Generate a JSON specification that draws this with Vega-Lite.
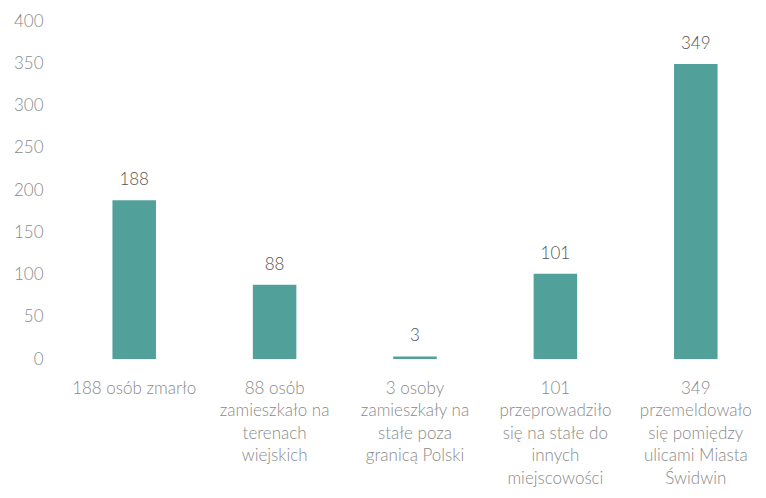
{
  "$schema": "https://vega.github.io/schema/vega-lite/v6.json",
  "autosize": {"type": "none"},
  "width": 702,
  "height": 338,
  "padding": {"left": 64, "top": 21, "right": 0, "bottom": 139},
  "background": "white",
  "config": {
    "view": {"stroke": null},
    "font": "Lato"
  },
  "data": {
    "values": [
      {"kategoria": "188 osób zmarło", "liczba": 188},
      {"kategoria": "88 osób\nzamieszkało na\nterenach\nwiejskich", "liczba": 88},
      {"kategoria": "3 osoby\nzamieszkały na\nstałe poza\ngranicą Polski", "liczba": 3},
      {"kategoria": "101\nprzeprowadziło\nsię na stałe do\ninnych\nmiejscowości", "liczba": 101},
      {"kategoria": "349\nprzemeldowało\nsię pomiędzy\nulicami Miasta\nŚwidwin", "liczba": 349}
    ]
  },
  "encoding": {
    "x": {
      "field": "kategoria",
      "type": "nominal",
      "sort": null,
      "scale": {"paddingInner": 0.69, "paddingOuter": 0.345},
      "axis": {
        "title": null,
        "labelAngle": 0,
        "domain": false,
        "ticks": false,
        "labelPadding": 21,
        "labelExpr": "split(datum.value, '\\n')",
        "labelLineHeight": 22.5,
        "labelFontSize": 17,
        "labelFontWeight": 300,
        "labelColor": "#8a8a8a",
        "labelLimit": 200
      }
    },
    "y": {
      "field": "liczba",
      "type": "quantitative",
      "scale": {"domain": [0, 400]},
      "axis": {
        "title": null,
        "values": [0, 50, 100, 150, 200, 250, 300, 350, 400],
        "grid": false,
        "domain": false,
        "ticks": false,
        "labelPadding": 21,
        "labelFontSize": 17,
        "labelFontWeight": 300,
        "labelColor": "#8a8a8a"
      }
    }
  },
  "layer": [
    {"mark": {"type": "bar", "color": "#52a09a"}},
    {
      "mark": {"type": "text", "baseline": "middle", "dy": -20, "fontSize": 17, "fontWeight": 300, "color": "#555555"},
      "encoding": {"text": {"field": "liczba", "type": "quantitative"}}
    }
  ]
}
